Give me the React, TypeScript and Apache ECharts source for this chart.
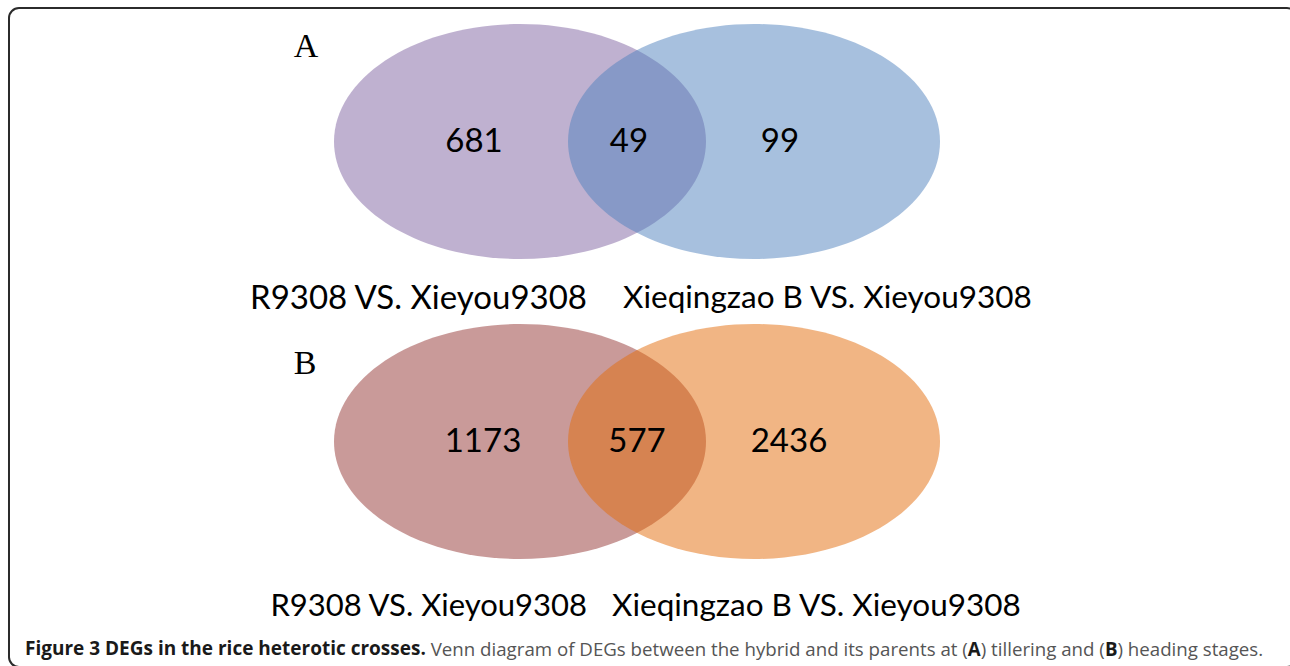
import React, { useEffect, useRef } from "react";
import * as echarts from "echarts";

// ---- data ----
const panels = ["A", "B"];
const regions = ["left", "overlap", "right"];
const countsA = [681, 49, 99];
const countsB = [1173, 577, 2436];
const leftSetNames = ["R9308 VS. Xieyou9308", "R9308 VS. Xieyou9308"];
const rightSetNames = ["Xieqingzao B VS. Xieyou9308", "Xieqingzao B VS. Xieyou9308"];
const captionTitle = "Figure 3 DEGs in the rice heterotic crosses.";
const captionText1 = " Venn diagram of DEGs between the hybrid and its parents at (";
const captionText2 = ") tillering and (";
const captionText3 = ") heading stages.";

// ---- layout / style (not data) ----
const W = 1290;
const H = 666;
const PANEL_CY = [141.5, 441.5];
const LEFT_CX = 520;
const RIGHT_CX = 754;
const RX = 186;
const RY = 117.5;
const LABEL_DX = [
  [-46, -8, 26],
  [-37, 0, 35],
];
const LABEL_DY = -3;
const LEFT_COLORS = ["rgba(128,100,162,0.5)", "rgba(148,54,52,0.5)"];
const RIGHT_COLORS = ["rgba(79,129,189,0.5)", "rgba(228,108,10,0.5)"];
const SET_NAME_Y = [296, 604];
const SET_NAME_LEFT_END = [587, 587];
const SET_NAME_LEFT_SIZE = [33, 31];
const SET_NAME_RIGHT_START = [623, 612];
const SET_NAME_RIGHT_SIZE = [31.5, 31.5];
const PANEL_LETTER_POS = [
  [306, 45],
  [305, 362],
];

const allCounts = [countsA, countsB];

export default function App() {
  const ref = useRef<HTMLDivElement>(null);
  useEffect(() => {
    if (!ref.current) return;
    const chart = echarts.init(ref.current, null, { renderer: "svg" });
    // data items: [panelIndex, regionIndex, count]; draw order left, right, overlap
    const order = [0, 2, 1];
    const seriesData: number[][] = [];
    panels.forEach((_, p) => {
      order.forEach((r) => seriesData.push([p, r, allCounts[p][r]]));
    });

    const renderItem = (params: any, api: any) => {
      const p = api.value(0);
      const r = api.value(1);
      const count = api.value(2);
      const cy = api.coord([0, PANEL_CY[p]])[1];
      const leftC = api.coord([LEFT_CX, 0])[0];
      const rightC = api.coord([RIGHT_CX, 0])[0];
      const mid = (leftC + rightC) / 2;
      const baseX = r === 0 ? leftC : r === 2 ? rightC : mid;
      const children: any[] = [];
      if (r === 0 || r === 2) {
        children.push({
          type: "ellipse",
          shape: { cx: baseX, cy, rx: RX, ry: RY },
          style: { fill: r === 0 ? LEFT_COLORS[p] : RIGHT_COLORS[p] },
          z2: r === 0 ? 1 : 2,
        });
      }
      children.push({
        type: "text",
        x: baseX + LABEL_DX[p][r],
        y: cy + LABEL_DY,
        z2: 10,
        style: {
          text: String(count),
          fontFamily: "Lato",
          fontSize: 33,
          fill: "#000",
          align: "center",
          verticalAlign: "middle",
        },
      });
      return { type: "group", children };
    };

    const graphics: any[] = [
      {
        type: "rect",
        shape: { x: 9, y: 8, width: 1288, height: 659, r: 10 },
        style: { fill: "none", stroke: "#2b2b2b", lineWidth: 2 },
        silent: true,
      },
    ];
    panels.forEach((name, p) => {
      graphics.push({
        type: "text",
        x: PANEL_LETTER_POS[p][0],
        y: PANEL_LETTER_POS[p][1],
        style: {
          text: name,
          fontFamily: "Liberation Serif",
          fontSize: 34,
          fill: "#000",
          align: "center",
          verticalAlign: "middle",
        },
      });
      graphics.push({
        type: "text",
        x: SET_NAME_LEFT_END[p],
        y: SET_NAME_Y[p],
        style: {
          text: leftSetNames[p],
          fontFamily: "Lato",
          fontSize: SET_NAME_LEFT_SIZE[p],
          fill: "#000",
          align: "right",
          verticalAlign: "middle",
        },
      });
      graphics.push({
        type: "text",
        x: SET_NAME_RIGHT_START[p],
        y: SET_NAME_Y[p],
        style: {
          text: rightSetNames[p],
          fontFamily: "Lato",
          fontSize: SET_NAME_RIGHT_SIZE[p],
          fill: "#000",
          align: "left",
          verticalAlign: "middle",
        },
      });
    });
    graphics.push({
      type: "text",
      x: 25,
      y: 648,
      style: {
        text:
          "{t|" + captionTitle + "}{r|" + captionText1 + "}{b|A}{r|" + captionText2 + "}{b|B}{r|" + captionText3 + "}",
        verticalAlign: "middle",
        align: "left",
        rich: {
          t: { fontFamily: "Open Sans", fontWeight: "bold", fontSize: 19, fill: "#1a1a1a" },
          b: { fontFamily: "Open Sans", fontWeight: "bold", fontSize: 18.7, fill: "#1a1a1a" },
          r: { fontFamily: "Open Sans", fontSize: 18.7, fill: "#555555" },
        },
      },
    });

    chart.setOption({
      animation: false,
      grid: { left: 0, right: 0, top: 0, bottom: 0 },
      xAxis: { type: "value", min: 0, max: W, show: false },
      yAxis: { type: "value", min: 0, max: H, inverse: true, show: false },
      series: [
        {
          type: "custom",
          renderItem,
          data: seriesData,
          silent: true,
        },
      ],
      graphic: graphics,
    });
    return () => chart.dispose();
  }, []);
  return (
    <div
      ref={ref}
      style={{ position: "fixed", left: 0, top: 0, width: W, height: H, background: "#fff" }}
    />
  );
}
